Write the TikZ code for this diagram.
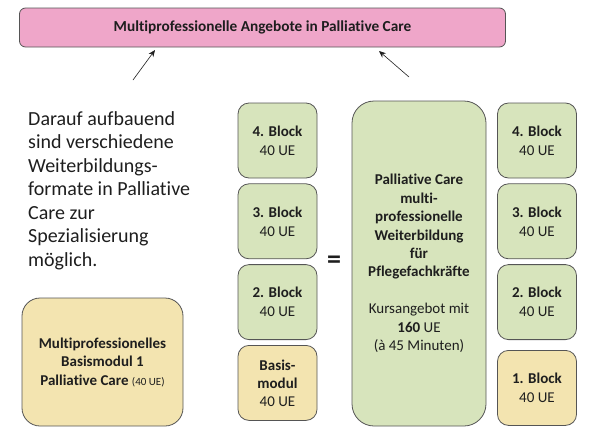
\documentclass[tikz,border=0pt]{standalone}
\usepackage{fontspec}
\setmainfont[Ligatures=NoCommon]{Carlito}
\usepackage{tikz}
\usetikzlibrary{positioning,arrows.meta}
\definecolor{rahmen}{RGB}{85,85,85}
\definecolor{rosa}{RGB}{239,166,201}
\definecolor{hellgruen}{RGB}{215,228,188}
\definecolor{sand}{RGB}{243,228,176}
\definecolor{schrift}{RGB}{30,30,30}
\tikzset{
  titlebar/.style={rectangle,rounded corners=6pt,draw=rahmen,thick,fill=rosa,minimum width=486pt,minimum height=39pt,font=\fontsize{15.3}{17}\selectfont\bfseries,text=schrift},
  blockbox/.style={rectangle,rounded corners=11pt,draw=rahmen,thick,fill=hellgruen,align=center,minimum width=79pt,minimum height=75pt,font=\fontsize{15}{19}\selectfont,text=schrift},
  basebox/.style={blockbox,fill=sand},
  bigbox/.style={rectangle,rounded corners=22pt,draw=rahmen,thick,fill=hellgruen,align=center,minimum width=134pt,minimum height=325pt,font=\fontsize{15}{18.4}\selectfont,text=schrift},
  modulbox/.style={rectangle,rounded corners=18pt,draw=rahmen,thick,fill=sand,align=center,minimum width=161pt,minimum height=128pt,font=\fontsize{15}{18.5}\selectfont,text=schrift},
  pfeil/.style={-{Stealth[length=2.4mm,width=2mm]},semithick,draw=schrift}
}

\begin{document}
\begin{tikzpicture}[x=1pt,y=-1pt,node distance=5pt]
  \useasboundingbox (0,0) rectangle (595,437);
  \node[titlebar] (titel) at (262.5,27.5) {Multiprofessionelle Angebote in Palliative Care};
  % linke Spalte
  \node[blockbox] (lvier) at (277.5,140.5) {\textbf{4. Block}\\40 UE};
  \node[blockbox,below=of lvier] (ldrei) {\textbf{3. Block}\\40 UE};
  \node[blockbox,below=of ldrei] (lzwei) {\textbf{2. Block}\\40 UE};
  \node[basebox,below=of lzwei,font=\fontsize{15}{18}\selectfont] (lbasis) {\textbf{Basis-}\\\textbf{modul}\\40 UE};
  % Mitte
  \node[bigbox] (mitte) at (419,263.5) {\textbf{Palliative Care}\\\textbf{multi-}\\\textbf{professionelle}\\\textbf{Weiterbildung}\\\textbf{für}\\\textbf{Pflegefachkräfte}\\[18.4pt]Kursangebot mit\\\textbf{160} UE\\(à 45 Minuten)};
  \node[font=\fontsize{28}{28}\selectfont\bfseries,text=schrift] (gleich) at (334,262) {=};
  % rechte Spalte
  \node[blockbox] (rvier) at (537,140.5) {\textbf{4. Block}\\40 UE};
  \node[blockbox,below=of rvier] (rdrei) {\textbf{3. Block}\\40 UE};
  \node[blockbox,below=of rdrei] (rzwei) {\textbf{2. Block}\\40 UE};
  \node[basebox,below=10pt of rzwei] (reins) {\textbf{1. Block}\\40 UE};
  % links
  \node[anchor=north west,align=left,inner sep=0pt,font=\fontsize{20}{23.5}\selectfont,text=schrift] (text) at (28,111) {Darauf aufbauend\\sind verschiedene\\Weiterbildungs-\\formate in Palliative\\Care zur\\Spezialisierung\\möglich.};
  \node[modulbox] (modul) at (102.5,362) {\textbf{Multiprofessionelles}\\\textbf{Basismodul 1}\\\textbf{Palliative Care} {\fontsize{11}{12}\selectfont(40 UE)}};
  % Pfeile
  \coordinate (pl) at (133,80);
  \coordinate (pr) at (409,77);
  \draw[pfeil] (pl) -- (155,50);
  \draw[pfeil] (pr) -- (379,51);
\end{tikzpicture}
\end{document}
